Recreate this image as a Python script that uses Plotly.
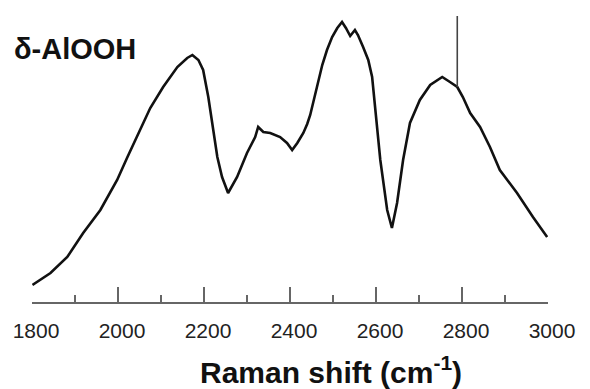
import plotly.graph_objects as go

# Raman spectrum of delta-AlOOH, O-H stretching region (intensity in arbitrary units)
raman_shift = [1801, 1843, 1882, 1919, 1959, 1998, 2022, 2052, 2075, 2105, 2138, 2161, 2173,
               2187, 2198, 2210, 2221, 2231, 2242, 2256, 2277, 2300, 2319, 2326, 2338, 2354,
               2377, 2393, 2405, 2417, 2431, 2440, 2447, 2454, 2463, 2475, 2486, 2498, 2510,
               2521, 2530, 2540, 2551, 2558, 2570, 2582, 2591, 2598, 2610, 2626, 2637, 2649,
               2663, 2679, 2702, 2726, 2754, 2772, 2789, 2802, 2819, 2842, 2865, 2888, 2928,
               2965, 2998]
intensity = [17, 29, 45, 69, 92, 122, 145, 172, 194, 215, 235, 244, 247,
             242, 232, 205, 172, 145, 125, 109, 125, 149, 165, 175, 170, 169,
             165, 159, 152, 159, 169, 178, 187, 200, 217, 237, 252, 265, 274,
             280, 274, 266, 272, 267, 255, 242, 225, 192, 142, 92, 74, 99,
             142, 179, 202, 217, 225, 220, 215, 205, 189, 175, 155, 132, 109,
             85, 65]

# narrow spike on the high-frequency band
spike_shift = [2789, 2789]
spike_intensity = [215, 286]

tick_values = [1800, 2000, 2200, 2400, 2600, 2800, 3000]
tick_labels = ["1800", "2000", "2200", "2400", "2600", "2800", "3000"]

fig = go.Figure()
fig.add_trace(go.Scatter(x=raman_shift, y=intensity, mode="lines",
                         line=dict(color="#111111", width=2.6), showlegend=False))
fig.add_trace(go.Scatter(x=spike_shift, y=spike_intensity, mode="lines",
                         line=dict(color="#444444", width=1.6), showlegend=False))

fig.update_layout(
    width=590, height=389,
    margin=dict(l=32, r=42, t=0, b=87),
    paper_bgcolor="white", plot_bgcolor="white",
    font=dict(family="Liberation Sans, Arial, sans-serif", color="#222222"),
    xaxis=dict(
        range=[1800, 3000], showgrid=False, zeroline=False,
        showline=True, linecolor="#666666", linewidth=2,
        ticks="inside", ticklen=15, tickwidth=1.5, tickcolor="#666666",
        tickvals=tick_values, ticktext=tick_labels,
        tickfont=dict(size=21, color="#222222"),
        ticklabelshift=4, ticklabelstandoff=9,
        minor=dict(dtick=100, tick0=1800, ticks="inside", ticklen=7,
                   tickwidth=1.5, tickcolor="#666666", showgrid=False),
    ),
    yaxis=dict(range=[0, 302], visible=False, showgrid=False, zeroline=False),
    annotations=[
        dict(text="<b>Raman shift (cm<sup>-1</sup>)</b>", xref="paper", yref="paper",
             x=0.5795, y=-0.225, xanchor="center", yanchor="middle",
             showarrow=False, font=dict(size=30, color="#111111")),
        dict(text="<b>δ-AlOOH</b>", xref="paper", yref="paper",
             x=-0.0388, y=0.839, xanchor="left", yanchor="middle",
             showarrow=False, font=dict(size=29, color="#111111")),
    ],
)

fig.write_html("out.html")
